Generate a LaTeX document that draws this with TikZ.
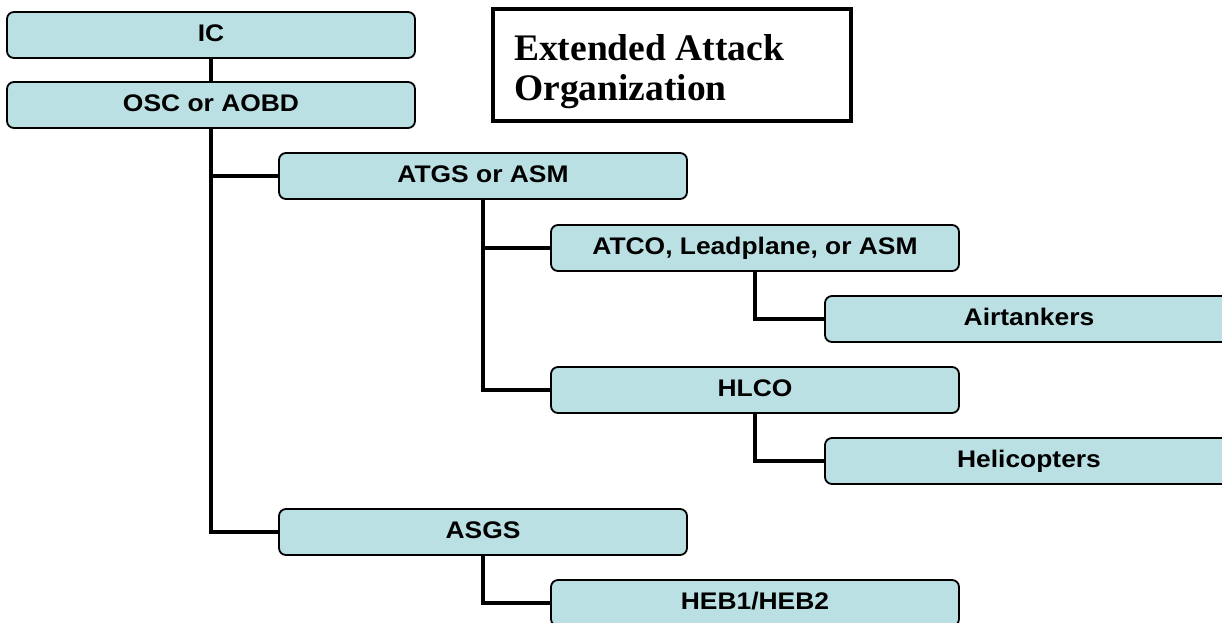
\documentclass[tikz,border=0pt]{standalone}
\usepackage{fontspec}
\setmainfont{Liberation Serif}
\newfontfamily\arialfont[FakeStretch=1.1]{Liberation Sans}
\definecolor{boxfill}{RGB}{187,224,227}
\begin{document}
\begin{tikzpicture}[x=1pt,y=-1pt,
  box/.style={draw=black, line width=1.8pt, rounded corners=7pt, fill=boxfill,
    minimum height=46pt, inner sep=0pt,
    font=\arialfont\bfseries\fontsize{24}{26}\selectfont},
  wide/.style={minimum width=408pt},
  conn/.style={line width=4.5pt, line join=miter},
  titlebox/.style={draw=black, line width=4pt, minimum width=358pt, minimum height=112pt,
    inner sep=0pt}]
\useasboundingbox (0,0) rectangle (1222,622);
\clip (0,0) rectangle (1222,622);

\node[titlebox] (title) at (672,65) {};
\node[anchor=west, align=left, font=\rmfamily\bfseries\fontsize{37.5}{40}\selectfont, inner sep=0pt]
  (titletext) at (514,72) {Extended Attack\\Organization};

\node[box, wide] (ic)    at (211,35)  {\raisebox{4pt}{IC}};
\node[box, wide] (osc)   at (211,105) {\raisebox{4pt}{OSC or AOBD}};
\node[box, wide] (atgs)  at (483,176) {\raisebox{4pt}{ATGS or ASM}};
\node[box, wide] (atco)  at (755,248) {\raisebox{4pt}{ATCO, Leadplane, or ASM}};
\node[box, wide] (air)   at (1029,319) {\raisebox{4pt}{Airtankers}};
\node[box, wide] (hlco)  at (755,390) {\raisebox{4pt}{HLCO}};
\node[box, wide] (heli)  at (1029,461) {\raisebox{4pt}{Helicopters}};
\node[box, wide] (asgs)  at (483,532) {\raisebox{4pt}{ASGS}};
\node[box, wide] (heb)   at (755,603) {\raisebox{4pt}{HEB1/HEB2}};

\draw[conn] (ic.south) -- (osc.north);
\draw[conn] (osc.south) |- (asgs.west);
\draw[conn] (osc.south |- atgs.west) -- (atgs.west);
\draw[conn] (atgs.south) |- (hlco.west);
\draw[conn] (atgs.south |- atco.west) -- (atco.west);
\draw[conn] (atco.south) |- (air.west);
\draw[conn] (hlco.south) |- (heli.west);
\draw[conn] (asgs.south) |- (heb.west);
\end{tikzpicture}
\end{document}
